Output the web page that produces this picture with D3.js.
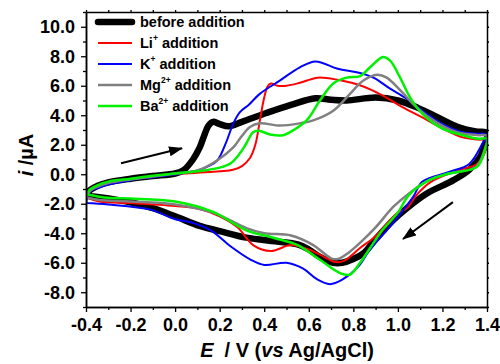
<!DOCTYPE html>
<html>
<head>
<meta charset="utf-8">
<script src="https://cdn.jsdelivr.net/npm/d3@7"></script>
<style>
  body { margin: 0; background: #fff; }
  text { font-family: "Liberation Sans", Arial, sans-serif; font-weight: bold; }
</style>
</head>
<body>
<div id="chart"></div>
<script>
// cyclic voltammograms, forward scan (-0.4 -> 1.4) then reverse (1.4 -> -0.4)
var blackFwd = [[-0.4,-1.45],[-0.38,-1.05],[-0.35,-0.8],[-0.3,-0.55],[-0.2,-0.3],[-0.1,-0.12],[0.0,0.05],[0.04,0.3],[0.08,1.0],[0.11,1.8],[0.13,2.6],[0.15,3.3],[0.17,3.55],[0.2,3.4],[0.24,3.25],[0.3,3.55],[0.41,4.15],[0.52,4.7],[0.63,5.15],[0.7,5.05],[0.77,5.0],[0.9,5.2],[1.0,5.0],[1.09,4.5],[1.18,3.85],[1.27,3.2],[1.35,2.9],[1.4,2.8]];
var blackRev = [[1.4,2.8],[1.39,2.0],[1.37,1.2],[1.32,0.3],[1.25,-0.4],[1.13,-1.3],[1.04,-2.3],[0.98,-3.1],[0.9,-4.4],[0.85,-5.3],[0.8,-5.75],[0.75,-6.0],[0.71,-6.0],[0.65,-5.6],[0.6,-5.1],[0.55,-4.75],[0.45,-4.55],[0.32,-4.3],[0.2,-3.85],[0.11,-3.5],[0.0,-2.85],[-0.1,-2.3],[-0.2,-1.9],[-0.34,-1.55],[-0.4,-1.45]];

var redFwd = [[-0.4,-1.55],[-0.38,-1.1],[-0.35,-0.85],[-0.3,-0.6],[-0.2,-0.35],[-0.1,-0.15],[0.0,0.0],[0.1,0.1],[0.2,0.2],[0.26,0.3],[0.3,0.55],[0.336,1.1],[0.36,2.0],[0.38,3.6],[0.4,5.2],[0.415,5.95],[0.43,6.15],[0.46,6.0],[0.5,6.0],[0.56,6.2],[0.64,6.55],[0.73,6.4],[0.845,5.95],[0.93,5.35],[1.02,4.55],[1.11,3.85],[1.2,3.1],[1.29,2.5],[1.36,2.35],[1.4,2.3]];
var redRev = [[1.4,2.3],[1.39,1.5],[1.355,0.7],[1.27,0.27],[1.15,-0.5],[1.09,-1.3],[1.04,-2.3],[1.0,-2.6],[0.965,-3.1],[0.9,-4.2],[0.83,-5.0],[0.76,-5.85],[0.72,-5.95],[0.65,-5.45],[0.59,-5.05],[0.52,-4.8],[0.43,-5.2],[0.35,-4.8],[0.28,-3.6],[0.2,-2.85],[0.11,-2.35],[0.0,-2.15],[-0.2,-1.95],[-0.34,-1.85],[-0.4,-1.55]];

var blueFwd = [[-0.4,-1.95],[-0.39,-1.4],[-0.37,-1.05],[-0.35,-0.95],[-0.3,-0.7],[-0.2,-0.4],[-0.1,-0.2],[0.0,0.0],[0.1,0.25],[0.15,0.55],[0.19,0.95],[0.23,2.2],[0.26,3.4],[0.29,4.2],[0.33,4.7],[0.38,5.45],[0.47,6.35],[0.56,7.25],[0.63,7.65],[0.73,7.15],[0.82,6.9],[0.89,6.55],[0.965,5.8],[1.04,5.1],[1.11,4.3],[1.2,3.4],[1.29,2.85],[1.36,2.75],[1.4,2.7]];
var blueRev = [[1.4,2.7],[1.38,2.1],[1.32,0.7],[1.23,0.15],[1.11,-0.5],[1.07,-1.5],[1.01,-2.7],[0.95,-3.8],[0.875,-5.1],[0.82,-6.3],[0.75,-7.15],[0.695,-7.45],[0.635,-7.1],[0.575,-6.4],[0.5,-6.0],[0.4,-6.15],[0.34,-5.8],[0.25,-4.9],[0.16,-3.8],[0.07,-3.25],[0.0,-3.05],[-0.11,-2.4],[-0.3,-2.05],[-0.4,-1.95]];

var grayFwd = [[-0.4,-1.55],[-0.38,-1.1],[-0.35,-0.85],[-0.3,-0.6],[-0.2,-0.35],[-0.1,-0.15],[0.0,0.05],[0.1,0.25],[0.19,0.95],[0.26,1.8],[0.3,2.6],[0.336,3.2],[0.38,3.45],[0.47,3.3],[0.56,3.45],[0.62,3.65],[0.71,4.3],[0.785,5.45],[0.845,6.35],[0.906,6.75],[0.95,6.55],[1.01,5.7],[1.086,4.5],[1.175,3.5],[1.265,2.85],[1.36,2.65],[1.4,2.6]];
var grayRev = [[1.4,2.6],[1.39,1.7],[1.35,0.5],[1.23,0.05],[1.14,-0.4],[1.05,-1.3],[0.98,-2.2],[0.9,-3.6],[0.83,-4.65],[0.78,-5.3],[0.73,-5.75],[0.7,-5.7],[0.62,-4.8],[0.52,-4.15],[0.4,-4.0],[0.32,-3.65],[0.17,-2.6],[0.0,-2.05],[-0.2,-1.85],[-0.34,-1.75],[-0.4,-1.55]];

var greenFwd = [[-0.4,-1.35],[-0.38,-1.0],[-0.35,-0.75],[-0.3,-0.5],[-0.2,-0.3],[-0.1,-0.1],[0.0,0.05],[0.1,0.2],[0.2,0.45],[0.25,0.75],[0.29,1.4],[0.32,2.1],[0.35,2.85],[0.375,2.95],[0.426,2.7],[0.485,2.65],[0.516,2.85],[0.59,3.65],[0.65,5.0],[0.71,6.15],[0.77,6.55],[0.83,6.65],[0.875,7.25],[0.933,7.95],[0.965,7.7],[1.01,6.55],[1.055,5.2],[1.11,4.1],[1.2,3.1],[1.29,2.65],[1.36,2.4],[1.4,2.4]];
var greenRev = [[1.4,2.4],[1.39,1.6],[1.355,0.5],[1.23,0.05],[1.14,-0.4],[1.05,-1.4],[1.0,-2.6],[0.93,-3.8],[0.86,-5.35],[0.83,-6.0],[0.785,-6.8],[0.74,-6.7],[0.65,-5.8],[0.55,-4.8],[0.44,-4.3],[0.32,-3.8],[0.17,-2.55],[0.0,-1.85],[-0.2,-1.65],[-0.3,-1.6],[-0.4,-1.35]];

var seriesNames = ["before addition", "Li", "K", "Mg", "Ba"];
var seriesSup = ["", "+", "+", "2+", "2+"];
var seriesColors = ["#000000", "#ff0000", "#0000ff", "#808080", "#00f000"];
var seriesWidths = [6.5, 2, 2, 2.5, 2.5];
var seriesData = [
  blackFwd.concat(blackRev.slice(1)),
  redFwd.concat(redRev.slice(1)),
  blueFwd.concat(blueRev.slice(1)),
  grayFwd.concat(grayRev.slice(1)),
  greenFwd.concat(greenRev.slice(1))
];

var xTicks = [-0.4, -0.2, 0.0, 0.2, 0.4, 0.6, 0.8, 1.0, 1.2, 1.4];
var xMinor = [-0.3, -0.1, 0.1, 0.3, 0.5, 0.7, 0.9, 1.1, 1.3];
var yTicks = [-8, -6, -4, -2, 0, 2, 4, 6, 8, 10];
var yMinor = [-9, -7, -5, -3, -1, 1, 3, 5, 7, 9, 11];

// arrows in data units [tail, tip]
var arrows = [
  [[-0.243, 0.74], [0.031, 1.76]],
  [[1.247, -1.89], [1.023, -4.39]]
];

var width = 500;
var height = 364;
var margin = {top: 12, right: 13, bottom: 57, left: 86};

var svg = d3.select("#chart")
    .append("svg")
    .attr("width", width)
    .attr("height", height);

var xScale = d3.scaleLinear()
    .domain([-0.4, 1.4])
    .range([margin.left, width - margin.right]);

var yScale = d3.scaleLinear()
    .domain([-9, 11])
    .range([height - margin.bottom, margin.top]);

var fmt = function(d) { return d.toFixed(1); };

// clip
svg.append("clipPath").attr("id", "clip")
    .append("rect")
    .attr("x", margin.left)
    .attr("y", margin.top)
    .attr("width", width - margin.left - margin.right)
    .attr("height", height - margin.top - margin.bottom);

var line = d3.line()
    .x(function(d) { return xScale(d[0]); })
    .y(function(d) { return yScale(d[1]); })
    .curve(d3.curveCatmullRom.alpha(0.5));

var curves = svg.append("g").attr("clip-path", "url(#clip)");
seriesData.forEach(function(pts, i) {
    curves.append("path")
        .datum(pts)
        .attr("d", line)
        .attr("fill", "none")
        .attr("stroke", seriesColors[i])
        .attr("stroke-width", seriesWidths[i])
        .attr("stroke-linejoin", "round");
});

// axes
var bottomY = height - margin.bottom;
var xAxis = svg.append("g")
    .attr("class", "xAxis")
    .attr("transform", "translate(0," + bottomY + ")")
    .call(d3.axisBottom(xScale).tickValues(xTicks).tickFormat(fmt).tickSize(5).tickSizeOuter(0));
svg.append("g")
    .attr("transform", "translate(0," + bottomY + ")")
    .call(d3.axisBottom(xScale).tickValues(xMinor).tickFormat("").tickSize(3).tickSizeOuter(0));

var yAxis = svg.append("g")
    .attr("class", "yAxis")
    .attr("transform", "translate(" + margin.left + ",0)")
    .call(d3.axisLeft(yScale).tickValues(yTicks).tickFormat(fmt).tickSize(5).tickSizeOuter(0));
svg.append("g")
    .attr("transform", "translate(" + margin.left + ",0)")
    .call(d3.axisLeft(yScale).tickValues(yMinor).tickFormat("").tickSize(3).tickSizeOuter(0));

// top and right
svg.append("g")
    .attr("transform", "translate(0," + margin.top + ")")
    .call(d3.axisTop(xScale).tickValues(xTicks.concat(xMinor)).tickFormat("").tickSize(2).tickSizeOuter(0));
svg.append("g")
    .attr("transform", "translate(" + (width - margin.right) + ",0)")
    .call(d3.axisRight(yScale).tickValues(yTicks.concat(yMinor)).tickFormat("").tickSize(2).tickSizeOuter(0));

svg.selectAll(".domain").attr("stroke", "#000").attr("stroke-width", 1.5);
svg.selectAll(".tick line").attr("stroke", "#000").attr("stroke-width", 1.3);

xAxis.selectAll("text")
    .attr("font-size", 18)
    .attr("fill", "#000")
    .attr("dy", "0.9em");
yAxis.selectAll("text")
    .attr("font-size", 18)
    .attr("fill", "#000")
    .attr("x", -11);

// axis titles
var xTitle = svg.append("text")
    .attr("x", 287)
    .attr("y", 357)
    .attr("text-anchor", "middle")
    .attr("font-size", 20)
    .attr("xml:space", "preserve");
xTitle.append("tspan").attr("font-style", "italic").text("E");
xTitle.append("tspan").text("  / V (");
xTitle.append("tspan").attr("font-style", "italic").text("vs");
xTitle.append("tspan").text(" Ag/AgCl)");

var yTitle = svg.append("text")
    .attr("transform", "translate(33,155) rotate(-90)")
    .attr("text-anchor", "middle")
    .attr("font-size", 20)
    .attr("xml:space", "preserve");
yTitle.append("tspan").attr("font-style", "italic").text("i");
yTitle.append("tspan").text(" /\u00b5A");

// legend
var legend = svg.append("g");
seriesNames.forEach(function(name, i) {
    var ly = 22 + i * 21;
    legend.append("line")
        .attr("x1", 98).attr("x2", 132)
        .attr("y1", ly).attr("y2", ly)
        .attr("stroke", seriesColors[i])
        .attr("stroke-width", seriesWidths[i])
        .attr("stroke-linecap", i === 0 ? "round" : "butt");
    var t = legend.append("text")
        .attr("x", 140)
        .attr("y", ly + 5)
        .attr("font-size", 14.5);
    t.append("tspan").text(name);
    if (seriesSup[i]) {
        t.append("tspan").attr("font-size", 8.5).attr("dy", -7).text(seriesSup[i]);
        t.append("tspan").attr("dy", 7).text(" addition");
    }
});

// arrows
svg.append("defs").append("marker")
    .attr("id", "head")
    .attr("markerUnits", "userSpaceOnUse")
    .attr("markerWidth", 14).attr("markerHeight", 10)
    .attr("refX", 13).attr("refY", 5)
    .attr("orient", "auto")
    .append("path")
    .attr("d", "M0,0 L14,5 L0,10 Z")
    .attr("fill", "#000");

arrows.forEach(function(a) {
    svg.append("line")
        .attr("x1", xScale(a[0][0])).attr("y1", yScale(a[0][1]))
        .attr("x2", xScale(a[1][0])).attr("y2", yScale(a[1][1]))
        .attr("stroke", "#000")
        .attr("stroke-width", 2)
        .attr("marker-end", "url(#head)");
});
</script>
</body>
</html>
